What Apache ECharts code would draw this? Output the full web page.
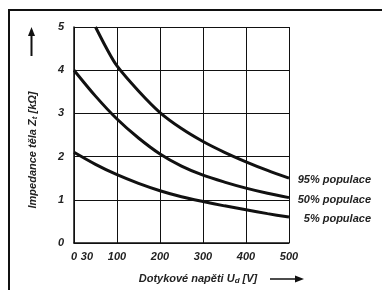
<!DOCTYPE html>
<html><head><meta charset="utf-8">
<script src="https://cdn.jsdelivr.net/npm/echarts@6/dist/echarts.min.js"></script>
<style>html,body{margin:0;padding:0;background:#fff}#c{width:382px;height:290px}</style>
</head><body><div id="c"></div>
<script>
var xTickLabels = [0, 30, 100, 200, 300, 400, 500];
var yTicks = [0, 1, 2, 3, 4, 5];
var x95 = [50, 75, 100, 150, 200, 250, 300, 350, 400, 450, 500];
var y95 = [5.0, 4.52, 4.1, 3.52, 3.02, 2.65, 2.35, 2.1, 1.88, 1.68, 1.5];
var x50 = [0, 50, 100, 150, 200, 250, 300, 350, 400, 450, 500];
var y50 = [4.0, 3.4, 2.87, 2.43, 2.06, 1.78, 1.57, 1.41, 1.27, 1.15, 1.05];
var x5 = [0, 50, 100, 150, 200, 250, 300, 350, 400, 450, 500];
var y5 = [2.1, 1.82, 1.58, 1.38, 1.21, 1.07, 0.96, 0.86, 0.77, 0.68, 0.6];
var seriesNames = ['95% populace', '50% populace', '5% populace'];

function pairs(xs, ys) { return xs.map(function (x, i) { return [x, ys[i]]; }); }
var font = { fontFamily: 'Liberation Sans, Arial, sans-serif', fontWeight: 'bold', fontStyle: 'italic', fontSize: 11, color: '#222' };

var chart = echarts.init(document.getElementById('c'), null, { renderer: 'canvas' });
function mkSeries(name, data, off) {
  return {
    name: name, type: 'line', data: data, smooth: 0.3, showSymbol: false, symbol: 'none',
    lineStyle: { color: '#111', width: 3 },
    endLabel: Object.assign({ show: true, formatter: name, align: 'right', offset: [off, 2] }, font),
    animation: false
  };
}
chart.setOption({
  animation: false,
  grid: { left: 74, top: 27, right: 93, bottom: 47 },
  xAxis: {
    type: 'value', min: 0, max: 500, interval: 100,
    axisLine: { show: true, lineStyle: { color: '#111', width: 1.5 } },
    axisTick: { show: false },
    axisLabel: Object.assign({ margin: 8, customValues: xTickLabels }, font),
    splitLine: { show: true, lineStyle: { color: '#111', width: 1 } }
  },
  yAxis: {
    type: 'value', min: 0, max: 5, interval: 1,
    axisLine: { show: true, lineStyle: { color: '#111', width: 1.5 } },
    axisTick: { show: false },
    axisLabel: Object.assign({ margin: 10 }, font),
    splitLine: { show: true, lineStyle: { color: '#111', width: 1 } }
  },
  series: [
    mkSeries(seriesNames[0], pairs(x95, y95), 74),
    mkSeries(seriesNames[1], pairs(x50, y50), 74),
    mkSeries(seriesNames[2], pairs(x5, y5), 74)
  ],
  graphic: [
    { type: 'rect', shape: { x: 9, y: 10, width: 400, height: 300 }, style: { fill: null, stroke: '#111', lineWidth: 2 }, silent: true },
    { type: 'text', x: 33, y: 150, rotation: Math.PI / 2,
      style: { text: 'Impedance těla Z{s|t} [kΩ]', align: 'center', verticalAlign: 'middle',
        font: 'italic bold 11px Liberation Sans, Arial, sans-serif', fill: '#222',
        rich: { s: { font: 'italic bold 8px Liberation Sans, Arial, sans-serif', fill: '#222', padding: [4, 0, 0, 0] } } } },
    { type: 'line', shape: { x1: 31.5, y1: 56, x2: 31.5, y2: 33 }, style: { stroke: '#111', lineWidth: 2 } },
    { type: 'polygon', shape: { points: [[31.5, 27], [28, 36], [35, 36]] }, style: { fill: '#111' } },
    { type: 'text', x: 198, y: 279,
      style: { text: 'Dotykové napěti U{s|d} [V]', align: 'center', verticalAlign: 'middle',
        font: 'italic bold 11px Liberation Sans, Arial, sans-serif', fill: '#222',
        rich: { s: { font: 'italic bold 8px Liberation Sans, Arial, sans-serif', fill: '#222', padding: [4, 0, 0, 0] } } } },
    { type: 'line', shape: { x1: 270, y1: 279, x2: 297, y2: 279 }, style: { stroke: '#111', lineWidth: 1.5 } },
    { type: 'polygon', shape: { points: [[304, 279], [295, 275.5], [295, 282.5]] }, style: { fill: '#111' } }
  ]
});
</script>
</body></html>
